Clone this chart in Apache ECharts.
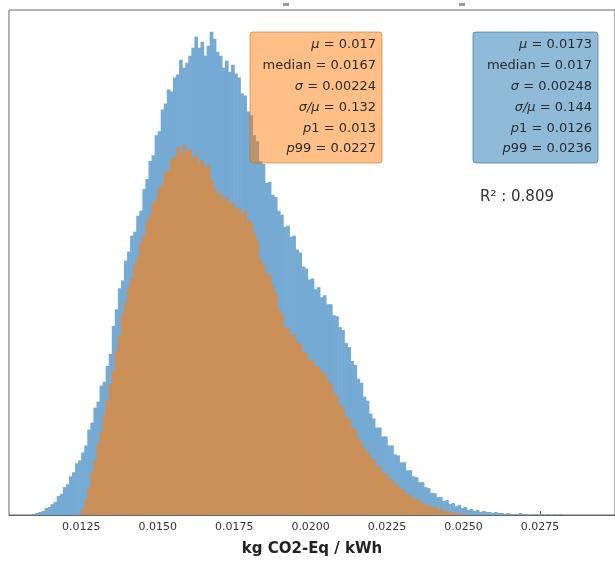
<!DOCTYPE html>
<html>
<head>
<meta charset="utf-8">
<script src="https://cdn.jsdelivr.net/npm/echarts@6/dist/echarts.min.js"></script>
<style>
  html, body { margin: 0; padding: 0; background: #fff; }
  #chart { width: 615px; height: 562px; }
</style>
</head>
<body>
<div id="chart"></div>
<script>
// histogram bins, width 0.0001
const binWidth = 0.0001;
const blueStart = 0.0109;
const blueCounts = [
  1, 2, 3, 4, 7, 8, 11, 13, 19, 21,
  28, 31, 39, 43, 52, 55, 63, 70, 86, 93,
  108, 114, 130, 134, 150, 162, 190, 207, 228, 236,
  256, 265, 281, 285, 301, 306, 328, 338, 356, 362,
  382, 386, 408, 414, 428, 426, 440, 443, 458, 450,
  455, 462, 470, 481, 470, 476, 462, 472, 486, 479,
  466, 462, 450, 457, 446, 453, 444, 440, 424, 422,
  406, 402, 382, 376, 356, 353, 334, 335, 322, 320,
  306, 302, 290, 291, 280, 281, 267, 264, 250, 248,
  237, 238, 227, 229, 219, 221, 212, 212, 201, 200,
  189, 186, 173, 169, 155, 151, 137, 133, 119, 115,
  102, 97, 88, 88, 79, 79, 70, 70, 61, 60,
  53, 53, 45, 45, 39, 38, 33, 33, 28, 27,
  22, 22, 18, 18, 14, 15, 11, 12, 9, 10,
  7, 8, 5, 6, 4, 5, 3, 4, 3, 3,
  2, 3, 2, 2, 1, 2, 1, 1, 1, 2,
  1, 1, 0, 1, 1, 0, 1, 0, 1, 0,
  1, 0, 1
];
const orangeStart = 0.0124;
const orangeCounts = [
  1, 6, 15, 27, 43, 55, 71, 84, 101, 115,
  132, 145, 165, 180, 202, 214, 230, 238, 252, 259,
  274, 281, 295, 301, 314, 318, 330, 332, 345, 346,
  358, 360, 370, 364, 372, 366, 368, 360, 362, 354,
  357, 350, 352, 338, 330, 322, 324, 317, 320, 313,
  314, 308, 309, 303, 306, 296, 294, 284, 276, 257,
  251, 243, 242, 231, 224, 208, 202, 189, 188, 181,
  182, 174, 172, 164, 163, 156, 156, 150, 149, 143,
  143, 135, 132, 123, 120, 111, 108, 99, 97, 88,
  86, 77, 74, 67, 64, 58, 56, 50, 49, 43,
  42, 37, 36, 31, 30, 26, 25, 21, 20, 17,
  16, 14, 13, 10, 10, 8, 8, 6, 6, 4,
  4, 3, 3, 2, 2, 1, 1
];
const tickValues = [0.0125, 0.0150, 0.0175, 0.0200, 0.0225, 0.0250, 0.0275];

const orangeStats = ['{i|μ} = 0.017', 'median = 0.0167', '{i|σ} = 0.00224', '{i|σ/μ} = 0.132', '{i|p}1 = 0.013', '{i|p}99 = 0.0227'];
const blueStats = ['{i|μ} = 0.0173', 'median = 0.017', '{i|σ} = 0.00248', '{i|σ/μ} = 0.144', '{i|p}1 = 0.0126', '{i|p}99 = 0.0236'];

function toBins(start, counts) {
  return counts.map((c, i) => {
    let x0 = +(start + i * binWidth).toFixed(5);
    return [x0, +(x0 + binWidth).toFixed(5), c];
  });
}

function histItem(color) {
  return function (params, api) {
    let p0 = api.coord([api.value(0), api.value(2)]);
    let p1 = api.coord([api.value(1), 0]);
    return {
      type: 'rect',
      shape: {x: p0[0], y: p0[1], width: p1[0] - p0[0] + 0.6, height: p1[1] - p0[1]},
      style: {fill: color}
    };
  };
}

// text box made of a rect and one right aligned line per stat
function statBox(left, right, fill, stroke, lines) {
  let els = [{
    type: 'rect',
    shape: {x: left, y: 32, width: right - left, height: 131, r: 3},
    style: {fill: fill, stroke: stroke, lineWidth: 1},
    z: 10
  }];
  lines.forEach((t, i) => {
    els.push({
      type: 'text',
      x: right - 6,
      y: 45 + i * 20.8,
      style: {
        text: t,
        align: 'right',
        verticalAlign: 'middle',
        fontFamily: 'DejaVu Sans',
        fontSize: 13,
        fill: '#2b2b2b',
        rich: {
          i: {fontStyle: 'italic', fontFamily: 'DejaVu Sans', fontSize: 13, fill: '#2b2b2b'}
        }
      },
      z: 11
    });
  });
  return els;
}

const chart = echarts.init(document.getElementById('chart'));

chart.setOption({
  animation: false,
  backgroundColor: '#fff',
  grid: {
    left: 9, top: 10, right: -16, bottom: 45,
    show: true, borderColor: '#666', borderWidth: 1
  },
  xAxis: {
    type: 'value',
    min: 0.01014,
    max: 0.02995,
    name: 'kg CO2-Eq / kWh',
    nameLocation: 'middle',
    nameGap: 27,
    nameTextStyle: {fontFamily: 'DejaVu Sans', fontWeight: 'bold', fontSize: 15, color: '#222'},
    axisLine: {show: true, lineStyle: {color: '#666'}},
    axisTick: {show: true, inside: true, length: 4, customValues: tickValues, lineStyle: {color: '#444'}},
    axisLabel: {
      customValues: tickValues,
      formatter: v => v.toFixed(4),
      fontFamily: 'DejaVu Sans',
      fontSize: 11,
      color: '#333',
      margin: 7
    },
    splitLine: {show: false}
  },
  yAxis: {
    type: 'value',
    min: 0,
    max: 508,
    axisLine: {show: false},
    axisTick: {show: false},
    axisLabel: {show: false},
    splitLine: {show: false}
  },
  series: [
    {
      type: 'custom',
      renderItem: histItem('#74aad3'),
      encode: {x: [0, 1], y: 2},
      data: toBins(blueStart, blueCounts),
      z: 2
    },
    {
      type: 'custom',
      renderItem: histItem('#cb8f58'),
      encode: {x: [0, 1], y: 2},
      data: toBins(orangeStart, orangeCounts),
      z: 3
    }
  ],
  graphic: [
    {type: 'rect', shape: {x: 283, y: 3, width: 6, height: 3}, style: {fill: '#999'}},
    {type: 'rect', shape: {x: 459, y: 3, width: 6, height: 3}, style: {fill: '#999'}},
    ...statBox(250, 382, 'rgba(255,127,14,0.5)', 'rgba(200,110,40,0.6)', orangeStats),
    ...statBox(473, 598, 'rgba(31,119,180,0.5)', 'rgba(31,100,160,0.6)', blueStats),
    {
      type: 'text',
      x: 480,
      y: 197,
      style: {
        text: 'R² : 0.809',
        verticalAlign: 'middle',
        fontFamily: 'DejaVu Sans',
        fontSize: 15,
        fill: '#333'
      },
      z: 11
    }
  ]
});
</script>
</body>
</html>
